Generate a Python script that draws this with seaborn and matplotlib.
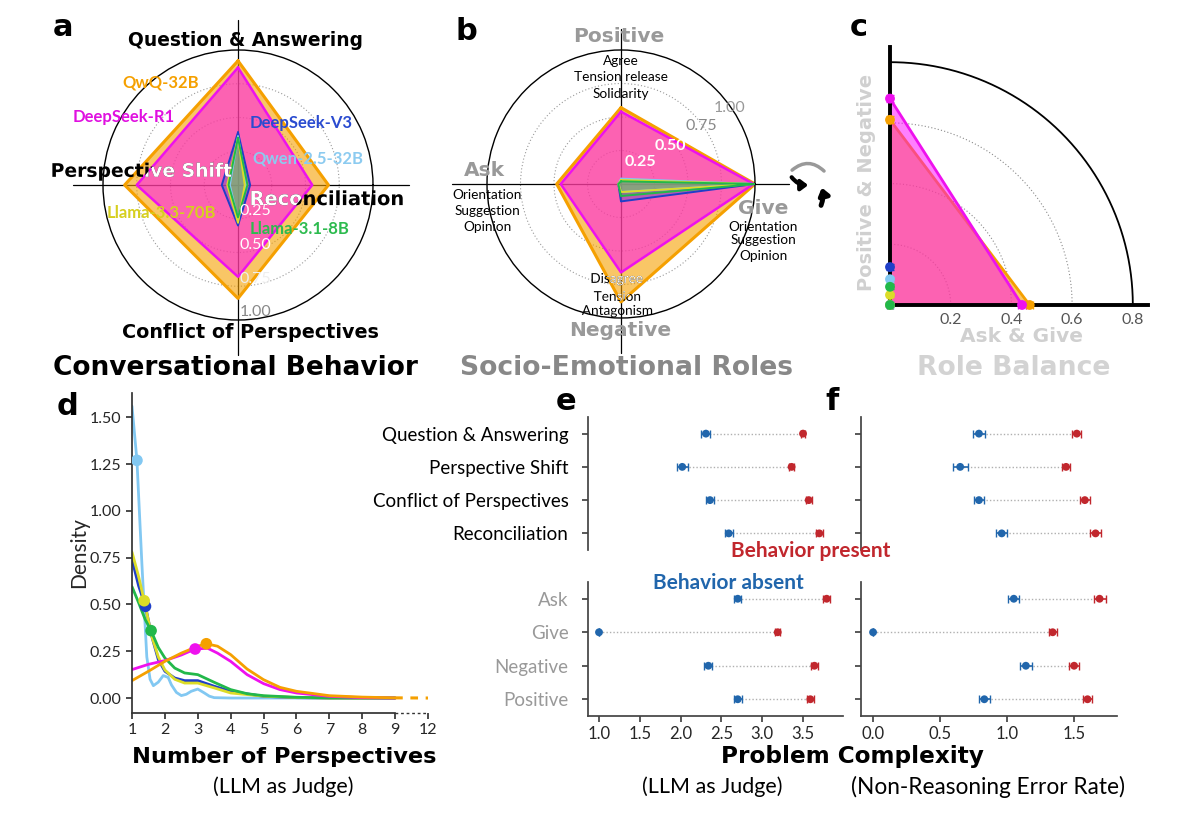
import numpy as np
import pandas as pd
import matplotlib
matplotlib.use('Agg')
import matplotlib.pyplot as plt
import seaborn as sns
from matplotlib.textpath import TextPath
from matplotlib.patches import PathPatch, Polygon, FancyArrowPatch
from matplotlib.font_manager import FontProperties
from matplotlib.transforms import Affine2D

sns.set_theme(style='ticks')
plt.rcParams['font.family'] = ['Lato', 'DejaVu Sans']
FONT = 'Lato'
HEAVY = 'DejaVu Sans'

# ---------------- data ----------------
models = ['QwQ-32B', 'DeepSeek-R1', 'DeepSeek-V3', 'Qwen-2.5-32B', 'Llama-3.3-70B', 'Llama-3.1-8B']
model_colors = ['#f5a000', '#ee11ee', '#1f3fc8', '#82c8f2', '#dcdc28', '#22b84a']

# a: conversational behaviours (Q&A, Perspective Shift, Conflict, Reconciliation)
behav_names = ['Question & Answering', 'Perspective Shift', 'Conflict of Perspectives', 'Reconciliation']
behav_qwq = [0.92, 0.84, 0.84, 0.67]
behav_r1 = [0.87, 0.75, 0.68, 0.55]
behav_v3 = [0.39, 0.12, 0.30, 0.09]
behav_qwen = [0.36, 0.06, 0.26, 0.06]
behav_l70 = [0.35, 0.08, 0.28, 0.05]
behav_l8 = [0.35, 0.07, 0.24, 0.07]

# b: socio-emotional roles (Positive, Ask, Negative, Give)
role_names = ['Positive', 'Ask', 'Negative', 'Give']
role_qwq = [0.57, 0.48, 0.88, 1.00]
role_r1 = [0.54, 0.45, 0.66, 0.99]
role_v3 = [0.03, 0.02, 0.13, 1.00]
role_qwen = [0.04, 0.02, 0.06, 1.00]
role_l70 = [0.03, 0.02, 0.06, 1.00]
role_l8 = [0.02, 0.02, 0.09, 1.00]

# c: role balance
bal_ask_give = [0.46, 0.435, 0.0, 0.0, 0.0, 0.0]
bal_pos_neg = [0.61, 0.68, 0.125, 0.085, 0.033, 0.06]
bal_err = [0.012, 0.012, 0.01, 0.008, 0.008, 0.008]

# d: density of number of perspectives
dens_x = {
    'QwQ-32B': [1, 1.5, 2, 2.5, 3, 3.26, 3.6, 4, 4.5, 5, 5.5, 6, 7, 8, 9, 12],
    'DeepSeek-R1': [1, 1.5, 2, 2.5, 2.92, 3.3, 3.6, 4, 4.5, 5, 5.5, 6, 7, 8, 9],
    'DeepSeek-V3': [1, 1.2, 1.41, 1.6, 1.8, 2, 2.3, 2.6, 3, 3.5, 4, 5, 6, 7, 9],
    'Qwen-2.5-32B': [1, 1.15, 1.3, 1.45, 1.55, 1.65, 1.8, 1.95, 2.1, 2.2, 2.35, 2.5, 2.65, 2.8, 3, 3.2, 3.35, 3.5, 4, 9],
    'Llama-3.3-70B': [1, 1.2, 1.37, 1.6, 1.8, 2, 2.3, 2.6, 3, 3.5, 4, 5, 6, 7, 9],
    'Llama-3.1-8B': [1, 1.2, 1.4, 1.58, 1.8, 2, 2.3, 2.6, 3, 3.5, 4, 4.5, 5, 6, 7, 9],
}
dens_y = {
    'QwQ-32B': [0.093, 0.143, 0.196, 0.24, 0.277, 0.29, 0.277, 0.232, 0.155, 0.098, 0.057, 0.036, 0.0125, 0.005, 0.001, 0.0],
    'DeepSeek-R1': [0.152, 0.18, 0.20, 0.23, 0.262, 0.266, 0.24, 0.196, 0.125, 0.077, 0.045, 0.027, 0.009, 0.002, 0.0],
    'DeepSeek-V3': [0.74, 0.60, 0.49, 0.33, 0.205, 0.143, 0.107, 0.093, 0.093, 0.063, 0.036, 0.009, 0.002, 0.0, 0.0],
    'Qwen-2.5-32B': [1.56, 1.27, 0.72, 0.22, 0.10, 0.066, 0.085, 0.12, 0.11, 0.07, 0.03, 0.013, 0.02, 0.036, 0.048, 0.027, 0.01, 0.002, 0.0, 0.0],
    'Llama-3.3-70B': [0.78, 0.65, 0.52, 0.33, 0.22, 0.15, 0.10, 0.08, 0.08, 0.054, 0.027, 0.01, 0.003, 0.0, 0.0],
    'Llama-3.1-8B': [0.595, 0.51, 0.42, 0.36, 0.27, 0.214, 0.16, 0.134, 0.125, 0.084, 0.045, 0.023, 0.0125, 0.004, 0.001, 0.0],
}
dens_mean_x = [3.26, 2.92, 1.41, 1.15, 1.37, 1.58]
dens_mean_y = [0.29, 0.262, 0.49, 1.27, 0.52, 0.36]

# e/f: problem complexity with behaviour absent / present
behav_rows = ['Question & Answering', 'Perspective Shift', 'Conflict of Perspectives', 'Reconciliation']
role_rows = ['Ask', 'Give', 'Negative', 'Positive']
judge_absent = [2.31, 2.02, 2.36, 2.59, 2.70, 1.00, 2.34, 2.70]
judge_absent_err = [0.055, 0.07, 0.05, 0.05, 0.04, 0.0, 0.05, 0.05]
judge_present = [3.50, 3.36, 3.57, 3.70, 3.79, 3.19, 3.64, 3.59]
judge_present_err = [0.03, 0.035, 0.035, 0.04, 0.04, 0.03, 0.04, 0.04]
err_absent = [0.79, 0.65, 0.79, 0.96, 1.05, 0.0, 1.14, 0.83]
err_absent_err = [0.045, 0.055, 0.04, 0.04, 0.04, 0.0, 0.045, 0.04]
err_present = [1.52, 1.44, 1.58, 1.66, 1.69, 1.34, 1.50, 1.60]
err_present_err = [0.035, 0.03, 0.035, 0.04, 0.045, 0.03, 0.04, 0.035]

RED = '#c1272d'
BLUE = '#2166ac'

W, H = 1200, 818
fig = plt.figure(figsize=(12, 8.18), dpi=100)


def px_axes(x, y, w, h, **kw):
    return fig.add_axes([x / W, 1 - (y + h) / H, w / W, h / H], **kw)


def ftext(x, y, s, size, color='black', weight='normal', ha='center', va='center', **kw):
    return fig.text(x / W, 1 - y / H, s, fontsize=size, color=color, fontweight=weight,
                    ha=ha, va=va, **kw)


def htext(x, y, s, size, color='black', **kw):
    # heavy display font for headings
    return ftext(x, y, s, size, color=color, weight='bold', family=HEAVY, **kw)


def tone_text(x, y, s, size, clip, family=FONT, weight='bold', color='black', top='white'):
    # text that turns white where it sits on the filled polygon
    fp = FontProperties(family=family, weight=weight)
    sz = size * 100 / 72
    tp = TextPath((0, 0), s, size=sz, prop=fp)
    cap = TextPath((0, 0), 'H', size=sz, prop=fp).get_extents().height
    bb = tp.get_extents()
    tr = Affine2D().translate(x - (bb.x0 + bb.x1) / 2, (H - y) - cap / 2)
    for col, cp in [(color, None), (top, clip)]:
        pp = PathPatch(tp, transform=tr, facecolor=col, edgecolor='none', zorder=6)
        fig.add_artist(pp)
        if cp is not None:
            pp.set_clip_path(cp)


def radar(ax, series, ext):
    theta = np.deg2rad([90, 180, 270, 360, 90])
    ax.set_ylim(0, 1)
    ax.set_xticks([])
    ax.set_yticks([0.25, 0.5, 0.75])
    ax.set_yticklabels([])
    ax.set_axisbelow(True)
    ax.yaxis.grid(True, color='#9a9a9a', ls=(0, (1, 2)), lw=0.8)
    ax.xaxis.grid(False)
    ax.spines['polar'].set_color('black')
    ax.spines['polar'].set_linewidth(1.0)
    ax.set_facecolor('none')
    for ang, r in zip([90, 180, 270, 0], ext):
        ax.plot([np.deg2rad(ang)] * 2, [0, r], color='black', lw=0.9, clip_on=False, zorder=1)
    polys = []
    for i, vals in enumerate(series):
        r = list(vals) + [vals[0]]
        c = model_colors[i]
        if i == 0:
            p = ax.fill(theta, r, color=c, alpha=0.6, lw=0, zorder=2)[0]
            ax.plot(theta, r, color=c, lw=2.2, zorder=2.1)
        elif i == 1:
            p = ax.fill(theta, r, color='#ff00ff', alpha=0.5, lw=0, zorder=2.2)[0]
            ax.plot(theta, r, color=c, lw=1.8, zorder=2.3)
        else:
            p = ax.fill(theta, r, color=c, alpha=0.3, lw=0, zorder=3)[0]
            ax.plot(theta, r, color=c, lw=1.4, zorder=3.1)
        polys.append(p)
    return polys


# ---------------- a ----------------
axa = px_axes(103, 50, 270, 270, projection='polar')
polys_a = radar(axa, [behav_qwq, behav_r1, behav_v3, behav_qwen, behav_l70, behav_l8],
                [1.22, 1.22, 1.26, 1.27])
htext(63, 28, 'a', 22)
htext(246, 40, 'Question & Answering', 13.4)
tone_text(142, 170, 'Perspective Shift', 13.5, polys_a[1], family=HEAVY)
tone_text(327, 198, 'Reconciliation', 14, polys_a[1], family=HEAVY)
htext(250, 333, 'Conflict of Perspectives', 13.8)
htext(235, 368, 'Conversational Behavior', 19)
ftext(161, 82, 'QwQ-32B', 12, color='#f5a000', weight='bold')
ftext(124, 117, 'DeepSeek-R1', 12, color='#e010e0', weight='bold')
ftext(301, 123, 'DeepSeek-V3', 12, color='#2a4bd0', weight='bold')
ftext(308, 159, 'Qwen-2.5-32B', 12, color='#8ccbf0', weight='bold')
ftext(161, 213, 'Llama-3.3-70B', 12, color='#d6cf1e', weight='bold')
ftext(300, 229, 'Llama-3.1-8B', 12, color='#2dbb4f', weight='bold')
for lab, yy, col in [('0.25', 211, 'white'), ('0.50', 245, 'white'), ('0.75', 279, '#eeeeee'),
                     ('1.00', 312, '#888888')]:
    ftext(240, yy, lab, 11.5, color=col, ha='left')

# ---------------- b ----------------
axb = px_axes(487, 50, 268, 268, projection='polar')
polys_b = radar(axb, [role_qwq, role_r1, role_v3, role_qwen, role_l70, role_l8],
                [1.16, 1.26, 1.26, 1.25])
htext(466, 32, 'b', 22)
GR = '#999999'
htext(619, 36, 'Positive', 14.5, color=GR)
htext(484, 171, 'Ask', 14.5, color=GR)
htext(763, 208, 'Give', 14.5, color=GR)
htext(620, 330, 'Negative', 14.5, color=GR)
for s, yy in [('Agree', 61), ('Tension release', 77), ('Solidarity', 94)]:
    ftext(621, yy, s, 9.8)
for s, yy in [('Orientation', 195), ('Suggestion', 211), ('Opinion', 227)]:
    ftext(487, yy, s, 9.8)
for s, yy in [('Orientation', 227), ('Suggestion', 240), ('Opinion', 256)]:
    ftext(763, yy, s, 9.8)
for s, yy in [('Disagree', 278), ('Tension', 296), ('Antagonism', 310)]:
    tone_text(617, yy, s, 9.8, polys_b[0], weight='normal')
htext(627, 368, 'Socio-Emotional Roles', 19.2, color='#888888')
for lab, xx, yy, col, wt in [('0.25', 640, 162, 'white', 'bold'), ('0.50', 670, 146, 'white', 'bold'),
                             ('0.75', 701, 126, '#888888', 'normal'), ('1.00', 730, 108, '#999999', 'normal')]:
    ftext(xx, yy, lab, 11.5, color=col, weight=wt)

# little rotation icon
fig.add_artist(FancyArrowPatch((790 / W, 1 - 175 / H), (811 / W, 1 - 185 / H),
                               transform=fig.transFigure, connectionstyle='arc3,rad=0.3',
                               arrowstyle='-|>,head_length=4,head_width=3', color='black', lw=3))
fig.add_artist(FancyArrowPatch((826 / W, 1 - 173 / H), (790 / W, 1 - 172 / H),
                               transform=fig.transFigure, connectionstyle='arc3,rad=0.5',
                               arrowstyle='-', color='#999999', lw=2.5))
fig.add_artist(FancyArrowPatch((820 / W, 1 - 208 / H), (821 / W, 1 - 185 / H),
                               transform=fig.transFigure, connectionstyle='arc3,rad=0.2',
                               arrowstyle='-|>,head_length=4,head_width=3', color='black', lw=3.5))

# ---------------- c ----------------
axc = px_axes(890, 47, 258, 258)
axc.set_xlim(0, 0.85)
axc.set_ylim(0, 0.85)
t = np.linspace(0, np.pi / 2, 200)
for r in [0.2, 0.4, 0.6]:
    axc.plot(r * np.cos(t), r * np.sin(t), color='#8a8a8a', ls=(0, (1, 2)), lw=0.8, zorder=0.5)
axc.plot(0.8 * np.cos(t), 0.8 * np.sin(t), color='black', lw=1.3, zorder=0.5)
for i in [0, 1]:
    tri = [[0, 0], [bal_ask_give[i], 0], [0, bal_pos_neg[i]]]
    if i == 0:
        axc.add_patch(Polygon(tri, closed=True, facecolor=model_colors[0], alpha=0.6, lw=0, zorder=1))
        axc.add_patch(Polygon(tri, closed=True, fill=False, edgecolor=model_colors[0], lw=2, zorder=1.1))
    else:
        axc.add_patch(Polygon(tri, closed=True, facecolor='#ff00ff', alpha=0.5, lw=0, zorder=1.2))
        axc.add_patch(Polygon(tri, closed=True, fill=False, edgecolor=model_colors[1], lw=2, zorder=1.3))
for i in range(len(models)):
    c = model_colors[i]
    axc.errorbar([bal_ask_give[i]], [0], xerr=[bal_err[i]], fmt='none', ecolor=c, capsize=3,
                 lw=1.2, clip_on=False, zorder=3)
    axc.errorbar([0], [bal_pos_neg[i]], yerr=[bal_err[i]], fmt='none', ecolor=c, capsize=3,
                 lw=1.2, clip_on=False, zorder=3)
sns.scatterplot(x=bal_ask_give + [0] * 6, y=[0] * 6 + bal_pos_neg, hue=models + models,
                palette=dict(zip(models, model_colors)), s=50, edgecolor='none', legend=False,
                ax=axc, clip_on=False, zorder=4)
for s in ['top', 'right']:
    axc.spines[s].set_visible(False)
for s in ['left', 'bottom']:
    axc.spines[s].set_linewidth(2.8)
    axc.spines[s].set_color('black')
axc.set_xticks([0.2, 0.4, 0.6, 0.8])
axc.set_xticklabels(['0.2', '0.4', '0.6', '0.8'])
axc.set_yticks([])
axc.tick_params(axis='x', length=0, pad=6, labelsize=11.5, labelcolor='#555555')
axc.set_xlabel('')
axc.set_ylabel('')
htext(859, 28, 'c', 22)
LG = '#d0d0d0'
htext(867, 182, 'Positive & Negative', 14, color=LG, rotation=90)
htext(1021, 336, 'Ask & Give', 14.5, color=LG)
htext(1014, 368, 'Role Balance', 19.2, color='#d3d3d3')

# ---------------- d ----------------
axd = px_axes(132, 393, 296, 320)


def fwd(x):
    x = np.asarray(x, dtype=float)
    return np.where(x <= 9, x, 9 + (x - 9) / 3)


def inv(x):
    x = np.asarray(x, dtype=float)
    return np.where(x <= 9, x, 9 + (x - 9) * 3)


axd.set_xscale('function', functions=(fwd, inv))
rows = []
for m in models:
    for xv, yv in zip(dens_x[m], dens_y[m]):
        if xv <= 9:
            rows.append({'model': m, 'x': xv, 'density': yv})
df_d = pd.DataFrame(rows)
draw_order = ['Qwen-2.5-32B', 'DeepSeek-V3', 'Llama-3.3-70B', 'Llama-3.1-8B', 'DeepSeek-R1', 'QwQ-32B']
sns.lineplot(data=df_d, x='x', y='density', hue='model', hue_order=draw_order,
             palette=dict(zip(models, model_colors)), legend=False, lw=2, sort=False,
             estimator=None, ax=axd)
axd.plot(dens_x['QwQ-32B'][-2:], dens_y['QwQ-32B'][-2:], color=model_colors[0], lw=2.2,
         ls=(0, (2.5, 2.5)))
sns.scatterplot(x=dens_mean_x, y=dens_mean_y, hue=models, palette=dict(zip(models, model_colors)),
                s=70, edgecolor='none', legend=False, ax=axd, zorder=5)
axd.set_xlim(1, 12)
axd.set_ylim(-0.08, 1.63)
axd.set_xticks([1, 2, 3, 4, 5, 6, 7, 8, 9, 12])
axd.set_xticklabels(['1', '2', '3', '4', '5', '6', '7', '8', '9', '12'])
axd.set_yticks([0, 0.25, 0.5, 0.75, 1.0, 1.25, 1.5])
axd.set_yticklabels(['0.00', '0.25', '0.50', '0.75', '1.00', '1.25', '1.50'])
for s in ['top', 'right']:
    axd.spines[s].set_visible(False)
axd.spines['bottom'].set_bounds(1, 9)
for s in ['left', 'bottom']:
    axd.spines[s].set_color('#333333')
axd.plot([9, 12], [-0.08, -0.08], color='#333333', lw=1, ls=(0, (2, 2)), clip_on=False)
axd.tick_params(direction='out', length=4, labelsize=11.5, color='#333333')
axd.set_xlabel('')
axd.set_ylabel('Density', fontsize=15)
axd.yaxis.set_label_coords(-0.145, 0.5)
htext(68, 407, 'd', 22)
htext(284, 757, 'Number of Perspectives', 16.2)
ftext(283, 787, '(LLM as Judge)', 15.5)


# ---------------- e / f ----------------
def dumbbell(ax, labels, absent, aerr, present, perr, show_labels, label_color, xlim, bottom):
    y = list(range(len(labels)))
    ax.hlines(y, absent, present, colors='#b0b0b0', linestyles=(0, (1, 1.5)), lw=1, zorder=1)
    ax.errorbar(absent, y, xerr=aerr, fmt='none', ecolor=BLUE, capsize=3, lw=1.2, zorder=2)
    ax.errorbar(present, y, xerr=perr, fmt='none', ecolor=RED, capsize=3, lw=1.2, zorder=2)
    sns.scatterplot(x=absent, y=y, color=BLUE, s=32, edgecolor='none', ax=ax, zorder=3)
    sns.scatterplot(x=present, y=y, color=RED, s=32, edgecolor='none', ax=ax, zorder=3)
    ax.set_ylim(len(labels) - 0.5, -0.5)
    ax.set_xlim(*xlim)
    ax.set_yticks(y)
    if show_labels:
        ax.set_yticklabels(labels, fontsize=13.5, color=label_color)
    else:
        ax.set_yticklabels([])
    ax.set_xlabel('')
    ax.set_ylabel('')
    for s in ['top', 'right']:
        ax.spines[s].set_visible(False)
    ax.spines['left'].set_color('#444444')
    ax.spines['bottom'].set_color('#444444')
    ax.tick_params(axis='y', direction='out', length=4, color='#444444', pad=10)
    if bottom:
        ax.tick_params(axis='x', direction='out', length=4, color='#444444', labelsize=12)
    else:
        ax.spines['bottom'].set_visible(False)
        ax.set_xticks([])


e_xlim = (0.865, 3.99)
f_xlim = (-0.09, 1.82)
ax_e1 = px_axes(588, 417, 255, 133)
ax_e2 = px_axes(588, 582, 255, 134)
ax_f1 = px_axes(861, 417, 256, 133)
ax_f2 = px_axes(861, 582, 256, 134)
dumbbell(ax_e1, behav_rows, judge_absent[:4], judge_absent_err[:4], judge_present[:4],
         judge_present_err[:4], True, 'black', e_xlim, False)
dumbbell(ax_e2, role_rows, judge_absent[4:], judge_absent_err[4:], judge_present[4:],
         judge_present_err[4:], True, '#999999', e_xlim, True)
dumbbell(ax_f1, behav_rows, err_absent[:4], err_absent_err[:4], err_present[:4],
         err_present_err[:4], False, 'black', f_xlim, False)
dumbbell(ax_f2, role_rows, err_absent[4:], err_absent_err[4:], err_present[4:],
         err_present_err[4:], False, 'black', f_xlim, True)
ax_e2.set_xticks([1.0, 1.5, 2.0, 2.5, 3.0, 3.5])
ax_f2.set_xticks([0.0, 0.5, 1.0, 1.5])

htext(566, 402, 'e', 22)
htext(832, 402, 'f', 22)
ftext(811, 551, 'Behavior present', 15, color=RED, weight='bold')
ftext(728, 583, 'Behavior absent', 15, color=BLUE, weight='bold')
htext(852, 757, 'Problem Complexity', 16.7)
ftext(712, 787, '(LLM as Judge)', 15.5)
ftext(988, 787, '(Non-Reasoning Error Rate)', 16.3)

fig.savefig('out.png', dpi=100, facecolor='white')
